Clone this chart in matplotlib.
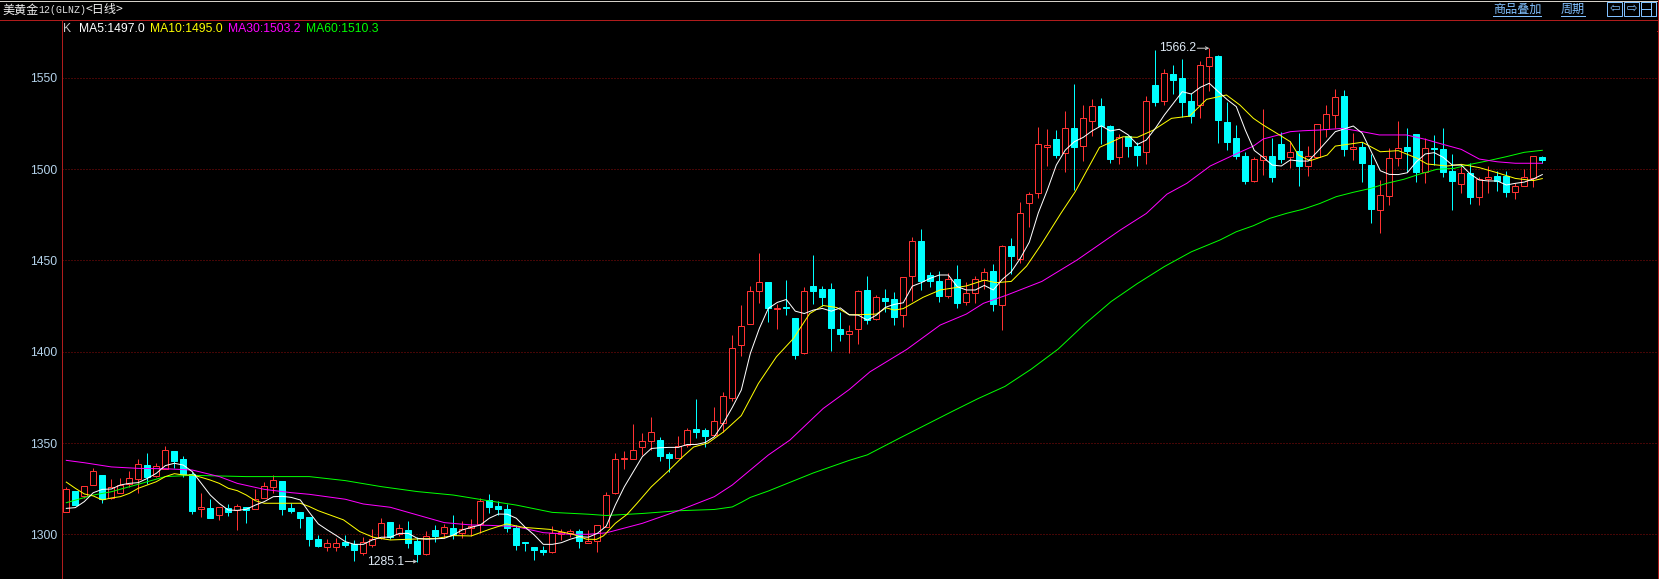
import matplotlib
matplotlib.use("Agg")
import matplotlib.pyplot as plt
from matplotlib.lines import Line2D
from matplotlib.patches import Rectangle

# ---- daily bars -------------------------------------------------------------
opens = [1312.0,1323.7,1321.0,1327.2,1332.5,1319.9,1322.8,1327.5,1330.3,1337.9,
 1332.1,1335.6,1345.6,1341.2,1332.8,1314.0,1314.4,1310.7,1314.4,1313.1,
 1314.9,1313.7,1320.1,1326.1,1329.2,1314.4,1312.2,1309.3,1297.4,1293.2,
 1293.2,1295.8,1294.7,1290.0,1294.0,1297.8,1306.8,1300.0,1302.4,1296.5,
 1289.4,1302.4,1300.5,1303.3,1300.5,1303.3,1305.8,1318.6,1315.5,1313.7,
 1303.7,1295.4,1293.0,1290.9,1290.5,1300.2,1300.9,1301.8,1295.4,1296.2,
 1304.1,1322.8,1341.0,1341.0,1348.0,1351.2,1351.6,1343.9,1341.7,1349.0,
 1357.6,1357.1,1354.3,1361.2,1374.9,1403.4,1414.9,1433.5,1438.1,1423.5,
 1424.4,1418.4,1399.4,1435.9,1434.3,1434.3,1412.4,1409.8,1412.2,1433.7,
 1418.1,1429.4,1428.8,1420.3,1441.3,1460.6,1442.0,1438.7,1430.5,1439.8,
 1427.4,1431.9,1439.4,1444.2,1425.7,1457.9,1450.9,1481.2,1486.7,1512.3,
 1516.5,1509.0,1522.3,1512.8,1526.5,1534.5,1523.6,1506.4,1517.9,1512.6,
 1509.2,1545.9,1537.5,1552.1,1549.9,1537.1,1535.3,1556.3,1561.9,1525.8,
 1517.0,1507.2,1493.5,1505.2,1507.2,1513.7,1506.6,1509.9,1501.9,1506.4,
 1521.8,1529.8,1540.0,1511.2,1511.9,1502.2,1477.8,1485.4,1505.9,1512.1,
 1519.2,1498.6,1511.5,1511.0,1499.0,1492.1,1497.7,1484.9,1494.4,1496.2,
 1496.2,1487.6,1490.9,1495.3,1506.6]
closes = [1324.6,1315.9,1326.4,1334.5,1319.1,1325.7,1326.8,1330.6,1338.3,1331.2,
 1337.2,1346.0,1340.3,1332.8,1312.8,1314.9,1309.1,1314.8,1312.4,1315.3,
 1313.1,1319.5,1326.3,1329.5,1314.0,1312.8,1309.1,1297.6,1293.6,1295.1,
 1295.1,1294.0,1291.4,1296.0,1297.3,1306.0,1298.7,1303.3,1295.4,1289.4,
 1298.9,1299.1,1303.8,1299.5,1302.7,1304.4,1318.3,1315.0,1313.9,1303.7,
 1294.2,1295.1,1291.6,1290.5,1300.5,1301.5,1301.6,1296.5,1296.2,1304.9,
 1321.4,1341.0,1341.6,1346.3,1350.9,1355.8,1342.8,1341.7,1348.3,1356.9,
 1355.9,1353.8,1361.8,1375.5,1401.8,1414.2,1433.5,1437.9,1424.0,1424.0,
 1424.0,1398.3,1433.0,1433.2,1429.9,1413.1,1409.6,1411.6,1433.5,1417.3,
 1429.8,1427.7,1419.0,1440.7,1460.4,1438.7,1438.5,1430.5,1439.6,1426.8,
 1431.9,1439.6,1443.5,1426.1,1457.7,1452.4,1475.7,1486.4,1513.5,1513.0,
 1507.7,1522.3,1512.3,1527.8,1534.4,1523.6,1505.7,1517.4,1512.6,1507.7,
 1537.1,1536.9,1552.4,1548.8,1536.9,1529.0,1556.8,1561.6,1527.1,1515.0,
 1507.3,1493.5,1505.3,1507.2,1495.7,1505.5,1509.2,1501.7,1507.0,1524.5,
 1530.0,1539.3,1511.0,1511.9,1503.5,1478.1,1485.6,1505.9,1511.4,1509.9,
 1498.6,1511.4,1510.8,1498.6,1493.5,1497.7,1484.9,1494.4,1495.5,1493.5,
 1487.6,1490.6,1495.5,1507.0,1505.0]
highs = [1325.9,1323.7,1326.4,1336.1,1332.5,1330.3,1331.0,1334.7,1341.2,1344.7,
 1339.0,1348.4,1345.6,1342.9,1334.3,1322.8,1319.3,1314.8,1316.6,1316.6,
 1314.9,1325.0,1328.6,1332.5,1329.2,1316.9,1312.2,1309.3,1299.6,1297.6,
 1297.8,1299.6,1296.9,1298.4,1302.7,1309.1,1306.9,1305.7,1307.3,1298.4,
 1301.8,1305.1,1305.7,1310.6,1307.3,1308.2,1319.7,1322.1,1318.4,1316.6,
 1305.1,1295.4,1293.2,1293.6,1304.6,1302.7,1302.7,1302.9,1302.4,1305.1,
 1323.1,1344.3,1345.6,1360.4,1355.4,1364.0,1353.3,1345.0,1353.8,1358.2,
 1374.1,1358.0,1369.5,1377.7,1408.9,1425.5,1435.9,1454.0,1438.1,1426.0,
 1439.2,1418.4,1435.6,1452.9,1435.9,1437.4,1421.9,1414.4,1433.6,1441.4,
 1431.2,1434.3,1432.5,1440.7,1462.6,1467.2,1443.6,1444.2,1442.9,1447.5,
 1438.2,1441.4,1446.0,1448.0,1458.4,1462.2,1481.8,1487.2,1523.0,1521.9,
 1521.4,1531.8,1546.6,1535.1,1538.2,1538.7,1523.9,1519.0,1518.7,1515.0,
 1540.0,1565.2,1554.8,1557.0,1560.3,1541.5,1559.0,1566.2,1562.5,1536.5,
 1524.1,1509.3,1506.6,1532.9,1517.0,1520.1,1515.4,1519.6,1512.6,1524.5,
 1535.1,1543.9,1543.3,1519.6,1514.8,1508.3,1494.0,1511.4,1526.3,1522.5,
 1519.2,1516.8,1518.7,1522.5,1508.3,1502.2,1503.1,1495.5,1501.7,1499.0,
 1499.0,1492.2,1499.9,1507.2,1507.2]
lows = [1312.0,1315.9,1319.9,1327.2,1316.9,1319.1,1322.8,1326.0,1322.8,1327.5,
 1331.2,1335.6,1336.1,1331.6,1311.1,1309.5,1309.1,1307.8,1310.2,1302.3,
 1306.4,1313.7,1320.1,1322.8,1310.6,1311.8,1303.4,1293.6,1293.0,1290.9,
 1290.9,1293.2,1285.6,1288.7,1293.2,1297.3,1297.3,1299.1,1292.7,1285.1,
 1288.5,1296.0,1298.0,1297.3,1298.0,1299.1,1300.5,1311.9,1310.6,1301.3,
 1291.4,1291.0,1285.9,1288.7,1290.0,1296.9,1298.4,1292.3,1295.1,1290.5,
 1304.1,1322.0,1335.7,1341.0,1343.4,1346.1,1340.1,1334.3,1341.7,1347.6,
 1352.7,1348.0,1354.3,1356.1,1372.9,1397.6,1414.9,1426.8,1416.2,1412.4,
 1420.0,1396.1,1399.0,1426.1,1425.0,1400.3,1405.8,1399.4,1404.1,1415.1,
 1417.4,1421.7,1414.6,1413.7,1427.9,1433.8,1435.2,1427.4,1429.2,1424.1,
 1425.6,1426.8,1434.1,1422.3,1412.0,1442.5,1448.7,1468.3,1484.3,1501.7,
 1505.9,1498.6,1488.5,1504.6,1518.3,1513.7,1503.5,1502.8,1506.4,1501.7,
 1502.8,1534.5,1535.1,1541.1,1528.3,1525.4,1528.2,1542.9,1514.5,1510.4,
 1505.5,1491.9,1493.1,1496.8,1493.1,1503.5,1500.6,1490.7,1496.2,1505.9,
 1517.4,1522.3,1507.2,1505.0,1492.9,1470.3,1464.8,1480.3,1501.7,1498.6,
 1493.1,1492.2,1502.2,1495.8,1477.6,1487.1,1480.9,1480.5,1487.1,1488.2,
 1484.9,1483.8,1490.9,1490.4,1503.2]

# ---- moving averages -------------------------------------------------------
ma5 = [1314.2,1314.6,1317.9,1322.8,1324.6,1324.8,1327.0,1327.9,1328.3,1330.6,
 1333.4,1337.6,1338.9,1337.9,1334.3,1327.9,1321.5,1316.9,1313.3,1313.1,
 1313.7,1316.0,1317.9,1320.6,1320.8,1320.2,1318.8,1312.0,1305.7,1302.4,
 1299.3,1296.0,1294.5,1294.5,1296.9,1298.4,1298.4,1300.5,1300.5,1297.8,
 1297.3,1297.5,1297.8,1299.6,1302.4,1303.8,1305.1,1308.8,1311.1,1311.0,
 1308.8,1303.8,1299.6,1294.5,1294.5,1295.4,1297.3,1298.7,1298.4,1300.5,
 1304.5,1316.0,1326.0,1334.3,1342.5,1347.0,1347.4,1347.6,1347.6,1349.2,
 1349.2,1350.3,1353.4,1360.8,1369.5,1379.0,1399.0,1412.7,1423.7,1427.0,
 1428.6,1422.2,1420.9,1422.8,1423.7,1422.2,1424.0,1420.2,1420.0,1417.3,
 1420.0,1424.3,1425.9,1426.8,1435.9,1437.8,1440.2,1442.0,1442.0,1435.6,
 1433.8,1433.8,1436.3,1433.8,1439.6,1443.8,1451.1,1460.0,1476.0,1488.5,
 1502.2,1510.4,1515.0,1517.4,1521.0,1523.7,1520.9,1521.8,1518.7,1513.5,
 1515.9,1522.3,1529.6,1536.0,1542.4,1541.1,1544.8,1547.0,1542.4,1538.0,
 1534.2,1521.4,1510.2,1506.4,1502.2,1501.7,1505.0,1504.4,1504.4,1509.5,
 1515.0,1520.5,1522.0,1523.6,1519.6,1509.5,1499.1,1497.1,1497.0,1498.0,
 1504.0,1508.3,1509.0,1506.4,1502.2,1502.2,1497.3,1494.0,1493.5,1493.5,
 1491.3,1492.2,1492.9,1494.6,1497.0]

ma10_day = list(range(29)) + [30.8,32.6,34.1,36,38.2,41.2,43,45,47,48.9,50.8,53.7,56.3,57.8,
 58.9,59.7,61,62.3,63.4,65,67,68.5,69.7,71.3,73,75,76.9,78.9,80.8,82.6,84.1,85.6,87,88.9,
 90,91.1,92,93,95.2,97.1,100,102,103.3,105,106.7,108.3,110.5,112.1,114.8,117.4,119,120.8,
 122.8,124.8,126.7,128.9,130.4,131.9,133,134.5,136,136.9,138.2,140.1,141,144,146,148,
 150.1,151.2,153.4,155,157,159,161,163,164]
ma10 = [1328.6,1325.2,1322.1,1321.0,1318.8,1319.9,1320.6,1322.4,1325.2,1327.0,1328.8,1331.6,
 1333.2,1332.5,1332.5,1331.2,1329.7,1327.9,1325.2,1323.9,1321.5,1318.4,1317.0,1317.0,1317.0,
 1317.0,1317.0,1315.2,1312.9,1307.9,1301.5,1298.4,1296.9,1297.3,1297.8,1299.3,1299.1,1302.7,
 1305.7,1303.8,1302.7,1300.0,1297.3,1297.2,1299.2,1306.0,1310.9,1316.9,1326.0,1335.2,1342.5,
 1347.8,1350.0,1356.0,1365.0,1382.6,1397.2,1407.3,1420.9,1425.3,1424.2,1420.2,1420.4,1420.6,
 1424.0,1422.8,1423.6,1429.8,1433.8,1436.0,1439.2,1437.8,1438.5,1446.9,1458.5,1475.7,1487.6,
 1511.9,1517.7,1517.4,1521.4,1527.8,1529.0,1538.2,1540.6,1535.1,1527.8,1524.1,1519.6,1515.0,
 1507.7,1504.6,1507.7,1512.6,1514.7,1509.5,1510.1,1505.9,1502.8,1501.7,1502.6,1500.8,1498.0,
 1494.9,1493.7,1494.8]

ma30_day = [0,2,5,8,11,14,17,19,22,25,27,31,33,36,39,42,45,47,50,53,56,58,60,64,68,72,74,76,
 78,80.4,84.1,87,89.3,93.4,97.1,100,101.9,104.5,108.4,112.3,117.1,120,122.3,124.5,127.1,129.7,
 131.9,133,134.7,136,137.4,139.3,141.8,144,145.9,148.9,151,153,155,157,159,161,164]
ma30 = [1340.5,1339.2,1336.9,1336.1,1335.9,1335.2,1331.6,1327.9,1324.6,1322.8,1321.9,1319.2,
 1316.6,1314.8,1310.6,1306.4,1305.1,1304.9,1304.2,1300.9,1300.0,1300.0,1300.8,1306.0,1312.9,
 1320.6,1327.0,1335.2,1343.4,1351.6,1368.9,1379.3,1389.0,1401.3,1414.6,1420.6,1426.5,1431.0,
 1438.5,1450.2,1466.6,1475.7,1486.3,1492.2,1501.7,1507.7,1512.6,1516.5,1518.7,1520.5,1521.0,
 1521.4,1522.3,1520.5,1518.7,1518.7,1516.3,1513.5,1510.8,1505.5,1504.0,1503.2,1503.2]

ma60_day = [0,3,5,8,11,14,20,27,31,35,39,43,47,50,54,58,60,64,68,72,74,75,76,78,83,87,89,92.6,
 95.4,98.4,101.3,104.3,107.2,110.2,113.2,116.1,119,122,125,128.2,130,131.9,133.7,135.6,137.4,
 139.3,141.1,143,144.9,146.7,148.6,150.4,152.3,154.2,156,158,160,162,164]
ma60 = [1317.3,1321.5,1323.3,1327.4,1331.6,1332.3,1331.6,1331.6,1329.4,1326.1,1323.4,1321.5,
 1318.3,1316.0,1312.0,1311.0,1310.3,1311.4,1312.9,1313.6,1315.0,1317.5,1320.2,1323.7,1333.6,
 1340.5,1343.5,1352.7,1359.7,1367.2,1374.3,1381.0,1390.4,1401.4,1415.3,1427.5,1437.3,1446.6,
 1454.7,1461.2,1465.7,1469.0,1473.0,1475.8,1478.0,1481.2,1484.9,1487.3,1489.4,1492.2,1494.4,
 1497.3,1499.9,1500.4,1502.6,1504.6,1506.8,1509.2,1510.3]

price_ticks = [1300, 1350, 1400, 1450, 1500, 1550]
title_parts = [("美黄金", "cjk", 2), ("12(GLNZ)", "mono", 38), ("<日线>", "cjk", 85)]
legend_items = [("K", "#c8c8c8", 63), ("MA5:1497.0", "#ffffff", 79), ("MA10:1495.0", "#ffff00", 150),
                ("MA30:1503.2", "#ff00ff", 228), ("MA60:1510.3", "#00ff00", 306)]
extreme_labels = [(127, 1566.2, "1566.2"), (39, 1285.1, "1285.1")]

W, H = 1659, 579
RED, CYAN = "#ff3232", "#00ffff"
FRAME, GRID, AXTXT, LINK = "#b01c1c", "#8c0c0c", "#b4d2ea", "#80c0ff"
LATIN = "Liberation Sans"
CJK = ["Noto Sans CJK SC", "DejaVu Sans"]
PX = 72 / 100

fig = plt.figure(figsize=(W / 100, H / 100), dpi=100, facecolor="black")
left, right, top = 61.5, 1657.5, 19.5
ax = fig.add_axes([left / W, 0, (right - left) / W, (H - top) / H], facecolor="black")
ax.set_xlim((left - 66.3) / 9, (right - 66.3) / 9)
ax.set_ylim(1300 - (579 - 534.3) / 1.826, 1300 + (534.3 - top) / 1.826)

for s in ("top", "right", "bottom"):
    ax.spines[s].set_visible(False)
ax.spines["left"].set_color(FRAME)
ax.spines["left"].set_linewidth(PX)
ax.set_xticks([])
ax.set_yticks(price_ticks)
ax.set_yticklabels([str(t) for t in price_ticks], color=AXTXT, fontsize=8.7, family=LATIN)
ax.tick_params(axis="y", length=0, pad=3)
ax.yaxis.grid(True, color=GRID, linewidth=PX, linestyle=(0, (1, 2)), zorder=0)
ax.set_axisbelow(True)

for i, (o, c, h, l) in enumerate(zip(opens, closes, highs, lows)):
    up = c >= o
    col = RED if up else CYAN
    ax.vlines(i, l, h, color=col, linewidth=PX, zorder=2)
    lo, hi = min(o, c), max(o, c)
    ax.bar(i, max(hi - lo, 0.7), bottom=lo, width=0.70,
           facecolor="black" if up else col, edgecolor=col, linewidth=PX, zorder=3)

ax.plot(ma60_day, ma60, color="#00ff00", lw=PX, zorder=4)
ax.plot(ma30_day, ma30, color="#ff00ff", lw=PX, zorder=5)
ax.plot(ma10_day, ma10, color="#ffff00", lw=PX, zorder=6)
ax.plot(range(len(ma5)), ma5, color="#ffffff", lw=PX, zorder=7)

for day, price, label in extreme_labels:
    ax.annotate("", xy=(day, price), xytext=(-12 * PX, 0), textcoords="offset points",
                arrowprops=dict(arrowstyle="->", color="#c8c8c8", lw=PX, mutation_scale=5,
                                shrinkA=0, shrinkB=0), zorder=9)
    ax.annotate(label, xy=(day, price), xytext=(-13.5 * PX, 0), textcoords="offset points",
                ha="right", va="center", color="#dfeaf5", fontsize=8.7, family=LATIN, zorder=9)

# ---- window furniture, placed in figure pixels ------------------------------
def fx(x): return x / W
def fy(y): return 1 - y / H
def hline(x0, x1, y, color, lw=PX):
    fig.add_artist(Line2D([fx(x0), fx(x1)], [fy(y), fy(y)], color=color, lw=lw))
def vline(x, y0, y1, color, lw=PX):
    fig.add_artist(Line2D([fx(x), fx(x)], [fy(y0), fy(y1)], color=color, lw=lw))

for text, kind, x in title_parts:
    if kind == "cjk":
        fig.text(fx(x), fy(10), text, color="#f0f0f0", fontsize=8.7, family=CJK, va="center", ha="left")
    else:
        fig.text(fx(x), fy(10), text, color="#e0e0e0", fontsize=7.2, family="Liberation Mono", va="center", ha="left")
for text, color, x in legend_items:
    fig.text(fx(x), fy(29.5), text, color=color, fontsize=8.7, family=LATIN, va="center", ha="left")

hline(0, W, 0.5, "#d4d0c8")
hline(0, 1657, 19.5, FRAME)
vline(1657.5, 0, H, FRAME)
hline(1657, W, 19.5, FRAME)
hline(1657, W, 30.5, FRAME)
fig.add_artist(Rectangle((fx(1657.5), fy(215)), 1.5 / W, 22 / H, transform=fig.transFigure,
                         facecolor="#707070", edgecolor="none"))

fig.text(fx(1517), fy(9), "商品叠加", color=LINK, fontsize=8.7, family=CJK, ha="center", va="center")
hline(1493, 1541, 15.5, LINK)
fig.text(fx(1573), fy(9), "周期", color=LINK, fontsize=8.7, family=CJK, ha="center", va="center")
hline(1561, 1585, 15.5, LINK)
for x0 in (1606.5, 1623.5, 1640.5):
    fig.add_artist(Rectangle((fx(x0), fy(15.5)), 15.5 / W, 13 / H, transform=fig.transFigure,
                             facecolor="none", edgecolor=LINK, linewidth=PX))
fig.text(fx(1614.5), fy(8.5), "\u21e6", color=LINK, fontsize=9, family="DejaVu Sans", ha="center", va="center")
fig.text(fx(1631.5), fy(8.5), "\u21e8", color=LINK, fontsize=9, family="DejaVu Sans", ha="center", va="center")
hline(1641, 1650, 9, LINK)
vline(1650.5, 3, 15, LINK)

fig.savefig("out.png", dpi=100, facecolor="black")
